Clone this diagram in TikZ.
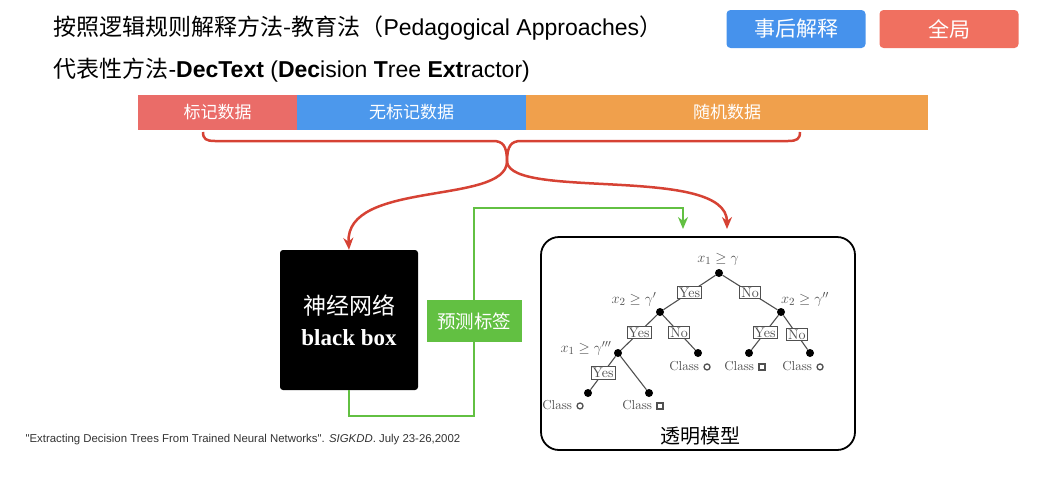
\documentclass[tikz,border=0pt]{standalone}
\usepackage{fontspec}
\usepackage{amsmath,amssymb}
\usetikzlibrary{arrows.meta,positioning,calc}
\newfontfamily\cjk{Noto Sans CJK SC}
\newfontfamily\arial{Liberation Sans}
\newfontfamily\tnr{Liberation Serif}
\newfontfamily\lmr{lmroman10-regular.otf}
\definecolor{barred}{RGB}{234,108,104}
\definecolor{barblue}{RGB}{76,152,236}
\definecolor{barorange}{RGB}{240,160,76}
\definecolor{btnblue}{RGB}{70,146,236}
\definecolor{btnred}{RGB}{240,112,96}
\definecolor{arrred}{RGB}{214,66,52}
\definecolor{lgreen}{RGB}{98,192,66}
\definecolor{treegray}{RGB}{80,80,80}
\newcommand{\mko}{\tikz[baseline=-3.5pt]\draw[line width=1.3pt] (0,0) circle (3pt);}
\newcommand{\mks}{\tikz[baseline=-3.5pt]\draw[line width=1.3pt] (-3pt,-3pt) rectangle (3pt,3pt);}

\begin{document}
\begin{tikzpicture}[x=1pt,y=-1pt,
    btn/.style={rounded corners=4pt,minimum width=139pt,minimum height=38pt,inner sep=0pt,
      text=white,font=\cjk\fontsize{21}{24}\selectfont},
    databar/.style={minimum height=35pt,inner sep=0pt,text=white,font=\cjk\fontsize{17}{20}\selectfont},
    redarr/.style={arrred,line width=2.5pt,-{Stealth[length=12pt,width=10pt]}},
    greenln/.style={lgreen,line width=2.5pt},
    dot/.style={circle,fill=black,inner sep=0pt,minimum size=8pt},
    yn/.style={draw=treegray,fill=white,line width=0.9pt,inner sep=1.5pt,text=treegray,
      font=\lmr\fontsize{14}{16}\selectfont},
    cond/.style={text=treegray,font=\fontsize{15}{17}\selectfont},
    cls/.style={text=treegray,font=\lmr\fontsize{13}{15}\selectfont},
    edge/.style={treegray,line width=1.1pt}]
  \useasboundingbox (0,0) rectangle (1052,477);

  % headings
  \node[anchor=west,font=\fontsize{23}{27}\selectfont] (title) at (50,28)
    {\cjk 按照逻辑规则解释方法-教育法（{\arial Pedagogical Approaches}）};
  \node[anchor=west,font=\fontsize{23}{27}\selectfont] (sub) at (50,70)
    {\cjk 代表性方法{\arial -\textbf{DecText} (\textbf{Dec}ision \textbf{T}ree \textbf{Ext}ractor)}};
  \node[btn,fill=btnblue] (post) at (796,29) {事后解释};
  \node[btn,fill=btnred] (glob) at (949,29) {全局};

  % data bar
  \node[databar,fill=barred,minimum width=159pt] (lab) at (217.5,112) {标记数据};
  \node[databar,fill=barblue,minimum width=229pt] (unl) at (411.5,112) {无标记数据};
  \node[databar,fill=barorange,minimum width=402pt] (rnd) at (727,112) {随机数据};

  % brace
  \coordinate (tip) at (507,162);
  \draw[arrred,line width=2.5pt] (203,132) .. controls (203,139) and (206,141) .. (215,141)
    -- (493,141) .. controls (503,141) and (507,146) .. (tip);
  \draw[arrred,line width=2.5pt] (800,132) .. controls (800,139) and (797,141) .. (788,141)
    -- (521,141) .. controls (511,141) and (507,146) .. (tip);

  % black box and labels
  \node[fill=black,rounded corners=3pt,minimum width=138pt,minimum height=140pt,text=white,
    align=center,font=\fontsize{23}{31}\selectfont] (nn) at (349,320)
    {{\cjk 神经网络}\\{\tnr\bfseries black box}};
  \node[fill=lgreen,minimum width=95pt,minimum height=42pt,inner sep=0pt,text=white,
    font=\cjk\fontsize{18.5}{21}\selectfont] (pred) at (474,321) {预测标签};

  % transparent model box
  \node[draw=black,line width=1.8pt,rounded corners=18pt,minimum width=314pt,
    minimum height=213pt] (tree) at (698,343.5) {};
  \node[font=\cjk\fontsize{20}{23}\selectfont] (tmodel) at (700,436) {透明模型};

  % arrows
  \coordinate (rtip) at (727,229);
  \coordinate (gtip) at (683,229);
  \draw[redarr] (tip) .. controls (505,205) and (345,180) .. (nn.north);
  \draw[redarr] (tip) .. controls (512,200) and (727,165) .. (rtip);
  \draw[greenln] (nn.south) -- ++(0,26) -| (pred.south);
  \draw[greenln,-{Stealth[length=12pt,width=10pt]}] (pred.north) |- (683,208) -- (gtip);

  % tree
  \node[dot] (r) at (719,273) {};
  \node[dot] (a) at (660,312) {};
  \node[dot] (b) at (781,312) {};
  \node[dot] (c) at (618,353) {};
  \node[dot] (d) at (698,353) {};
  \node[dot] (e) at (749,353) {};
  \node[dot] (f) at (810,353) {};
  \node[dot] (g) at (588,393) {};
  \node[dot] (h) at (649,393) {};
  \draw[edge] (r) -- (a);
  \draw[edge] (r) -- (b);
  \draw[edge] (a) -- (c);
  \draw[edge] (a) -- (d);
  \draw[edge] (b) -- (e);
  \draw[edge] (b) -- (f);
  \draw[edge] (c) -- (g);
  \draw[edge] (c) -- (h);
  \node[yn] (ra) at ($(r)!0.5!(a)$) {Yes};
  \node[yn] (rb) at ($(r)!0.5!(b)$) {No};
  \node[yn] (ac) at ($(a)!0.5!(c)$) {Yes};
  \node[yn] (ad) at ($(a)!0.5!(d)$) {No};
  \node[yn] (be) at ($(b)!0.5!(e)$) {Yes};
  \node[yn] (bf) at ($(b)!0.55!(f)$) {No};
  \node[yn] (cg) at ($(c)!0.5!(g)$) {Yes};
  \node[cond] (rlab) at (718,259) {$x_1\geq\gamma$};
  \node[cond] (alab) at (634,299) {$x_2\geq\gamma'$};
  \node[cond] (blab) at (805,299) {$x_2\geq\gamma''$};
  \node[cond] (clab) at (586,348) {$x_1\geq\gamma'''$};
  \node[cls] (dcls) at (690,366) {Class \mko};
  \node[cls] (ecls) at (745,366) {Class \mks};
  \node[cls] (fcls) at (803,366) {Class \mko};
  \node[cls] (gcls) at (563,405) {Class \mko};
  \node[cls] (hcls) at (643,405) {Class \mks};

  % reference
  \node[anchor=west,text=black!80,font=\arial\fontsize{11.4}{13}\selectfont] (refnote) at (22,440)
    {"Extracting Decision Trees From Trained Neural Networks". \textit{SIGKDD}. July 23-26,2002};
\end{tikzpicture}
\end{document}
